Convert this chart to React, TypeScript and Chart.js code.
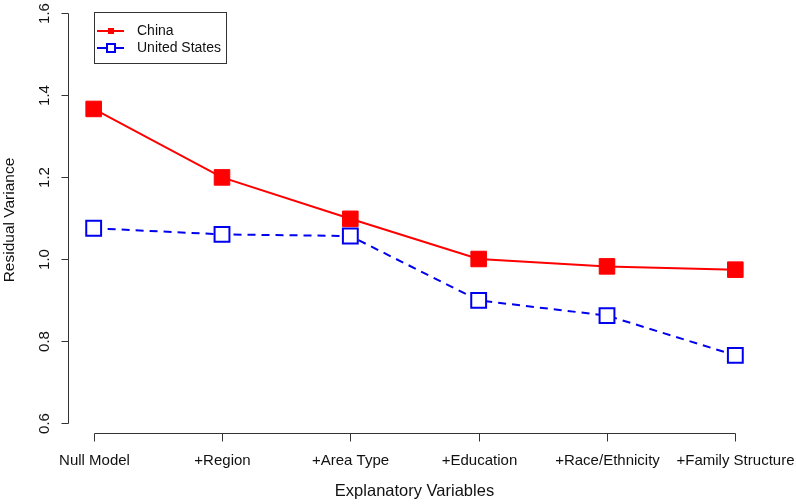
import React, { useEffect, useRef } from "react";
import { Chart, registerables } from "chart.js";

Chart.register(...registerables);

const categories = ["Null Model", "+Region", "+Area Type", "+Education", "+Race/Ethnicity", "+Family Structure"];
const chinaValues = [1.366, 1.199, 1.098, 1.0, 0.982, 0.974];
const usValues = [1.075, 1.06, 1.056, 0.899, 0.862, 0.765];
const yTicks = [0.6, 0.8, 1.0, 1.2, 1.4, 1.6];
const xTitle = "Explanatory Variables";
const yTitle = "Residual Variance";
const seriesNames = ["China", "United States"];

const RED = "#FF0000";
const BLUE = "#0000EE";
const FONT = '"Liberation Sans", Arial, sans-serif';

const rAxes = {
  id: "rAxes",
  afterDraw(chart: any) {
    const ctx = chart.ctx as CanvasRenderingContext2D;
    const xs = chart.scales.x;
    const ys = chart.scales.y;
    const area = chart.chartArea;
    ctx.save();
    ctx.strokeStyle = "#333";
    ctx.fillStyle = "#111";
    ctx.lineWidth = 1;
    // y axis
    const yx = Math.round(area.left) + 0.5;
    const yTop = ys.getPixelForValue(yTicks[yTicks.length - 1]);
    const yBot = ys.getPixelForValue(yTicks[0]);
    ctx.beginPath();
    ctx.moveTo(yx, Math.round(yTop) + 0.5);
    ctx.lineTo(yx, Math.round(yBot) + 0.5);
    ctx.stroke();
    ctx.font = `15px ${FONT}`;
    yTicks.forEach((v) => {
      const py = Math.round(ys.getPixelForValue(v)) + 0.5;
      ctx.beginPath();
      ctx.moveTo(yx - 7, py);
      ctx.lineTo(yx, py);
      ctx.stroke();
      ctx.save();
      ctx.translate(yx - 24, py);
      ctx.rotate(-Math.PI / 2);
      ctx.textAlign = "center";
      ctx.textBaseline = "middle";
      ctx.fillText(v.toFixed(1), 0, 0);
      ctx.restore();
    });
    // x axis
    const xy = Math.round(area.bottom) + 0.5;
    const x0 = xs.getPixelForValue(1);
    const x1 = xs.getPixelForValue(categories.length);
    ctx.beginPath();
    ctx.moveTo(Math.round(x0) + 0.5, xy);
    ctx.lineTo(Math.round(x1) + 0.5, xy);
    ctx.stroke();
    categories.forEach((c, i) => {
      const px = Math.round(xs.getPixelForValue(i + 1)) + 0.5;
      ctx.beginPath();
      ctx.moveTo(px, xy);
      ctx.lineTo(px, xy + 8);
      ctx.stroke();
      ctx.textAlign = "center";
      ctx.textBaseline = "middle";
      ctx.fillText(c, px, xy + 27);
    });
    // titles
    ctx.textAlign = "center";
    ctx.textBaseline = "middle";
    ctx.font = `16.5px ${FONT}`;
    ctx.fillText(xTitle, (area.left + area.right) / 2, 491);
    ctx.font = `15.5px ${FONT}`;
    ctx.save();
    ctx.translate(10, 220);
    ctx.rotate(-Math.PI / 2);
    ctx.fillText(yTitle, 0, 0);
    ctx.restore();
    // legend
    const lx = 94, ly = 12, lw = 132, lh = 51;
    ctx.strokeStyle = "#333";
    ctx.lineWidth = 1;
    ctx.strokeRect(lx + 0.5, ly + 0.5, lw, lh);
    const rows = [ly + 19, ly + 36];
    ctx.font = `14px ${FONT}`;
    ctx.textAlign = "left";
    // China
    ctx.strokeStyle = RED;
    ctx.lineWidth = 2;
    ctx.setLineDash([]);
    ctx.beginPath();
    ctx.moveTo(lx + 3, rows[0]);
    ctx.lineTo(lx + 30, rows[0]);
    ctx.stroke();
    ctx.fillStyle = RED;
    ctx.fillRect(lx + 14, rows[0] - 3, 6, 6);
    // US
    ctx.strokeStyle = BLUE;
    ctx.beginPath();
    ctx.moveTo(lx + 3, rows[1]);
    ctx.lineTo(lx + 12, rows[1]);
    ctx.moveTo(lx + 22, rows[1]);
    ctx.lineTo(lx + 30, rows[1]);
    ctx.stroke();
    ctx.strokeRect(lx + 13, rows[1] - 4, 8, 8);
    ctx.fillStyle = "#111";
    ctx.fillText(seriesNames[0], lx + 43, rows[0]);
    ctx.fillText(seriesNames[1], lx + 43, rows[1]);
    ctx.restore();
  },
};

export default function App() {
  const ref = useRef<HTMLCanvasElement>(null);
  useEffect(() => {
    if (!ref.current) return;
    const chart = new Chart(ref.current, {
      type: "line",
      data: {
        datasets: [
          {
            label: seriesNames[0],
            data: chinaValues.map((v, i) => ({ x: i + 1, y: v })),
            borderColor: RED,
            borderWidth: 2,
            pointStyle: "rect",
            pointRadius: 11,
            pointBackgroundColor: RED,
            pointBorderColor: RED,
            pointBorderWidth: 1,
            tension: 0,
          },
          {
            label: seriesNames[1],
            data: usValues.map((v, i) => ({ x: i + 1, y: v })),
            borderColor: BLUE,
            borderWidth: 2,
            borderDash: [8, 6],
            pointStyle: "rect",
            pointRadius: 10.5,
            pointBackgroundColor: "#FFFFFF",
            pointBorderColor: BLUE,
            pointBorderWidth: 2,
            tension: 0,
          },
        ],
      },
      options: {
        animation: false,
        responsive: false,
        devicePixelRatio: 1,
        layout: { autoPadding: false, padding: { left: 68, right: 35, top: 1, bottom: 71 } },
        plugins: { legend: { display: false }, tooltip: { enabled: false } },
        scales: {
          x: { type: "linear", min: 0.8, max: 6.2, display: false },
          y: { type: "linear", min: 0.5756, max: 1.6293, display: false },
        },
      },
      plugins: [rAxes],
    });
    return () => chart.destroy();
  }, []);
  return (
    <div style={{ position: "fixed", left: 0, top: 0, width: 796, height: 504, background: "#fff" }}>
      <canvas ref={ref} width={796} height={504} />
    </div>
  );
}
